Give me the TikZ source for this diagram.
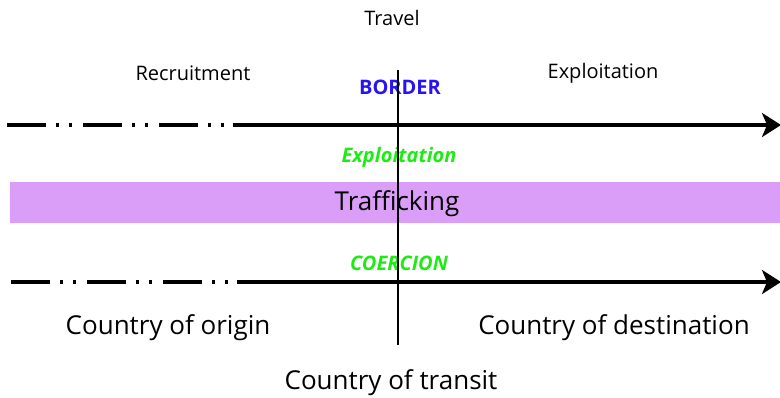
\documentclass[tikz,border=0pt]{standalone}
\usepackage{fontspec}
\setmainfont{Open Sans}
\usetikzlibrary{arrows.meta}
\begin{document}
\begin{tikzpicture}[x=1pt,y=-1pt,
  axis/.style={line width=2.6pt},
  dashdots/.style={line width=3.2pt,dash pattern=on 39pt off 10pt on 3pt off 10pt on 3pt off 11pt},
  arrowend/.style={line width=3.2pt,-{Stealth[length=19pt,width=24pt,inset=5pt]}},
  lbl/.style={inner sep=0pt,font=\fontsize{20}{24}\selectfont},
  big/.style={inner sep=0pt,font=\fontsize{26}{30}\selectfont},
  mark1/.style={inner sep=0pt,font=\fontsize{20}{24}\selectfont\bfseries},
  greenmark/.style={inner sep=0pt,font=\fontsize{20}{24}\selectfont\bfseries\itshape,text={rgb,255:red,30;green,235;blue,20}},
  ]
\useasboundingbox (0,0) rectangle (780,397);
\fill[fill={rgb,255:red,218;green,158;blue,248}] (10,182) rectangle (780,223);
\node[big] (traff) at (397,204) {Trafficking};
\node[lbl] (travel) at (392,18) {Travel};
\node[lbl] (recr) at (193,73) {Recruitment};
\node[lbl] (expl) at (603,73) {Exploitation};
\node[mark1,text={rgb,255:red,40;green,20;blue,240}] (border) at (400,87) {BORDER};
\node[greenmark] (gexpl) at (399,157) {Exploitation};
\node[greenmark] (coer) at (399,263) {COERCION};
\node[big] (origin) at (168,328) {Country of origin};
\node[big] (dest) at (614,328) {Country of destination};
\node[big] (transit) at (391,383) {Country of transit};
\coordinate (a1) at (7,125); \coordinate (a2) at (233,125); \coordinate (a3) at (781,125);
\coordinate (b1) at (11,282); \coordinate (b2) at (237,282); \coordinate (b3) at (781,282);
\coordinate (vtop) at (398,70); \coordinate (vbot) at (398,345);
\draw[dashdots] (a1) -- (a2);
\draw[arrowend] (a2) -- (a3);
\draw[dashdots] (b1) -- (b2);
\draw[arrowend] (b2) -- (b3);
\draw[axis] (vtop) -- (vbot);
\end{tikzpicture}
\end{document}
